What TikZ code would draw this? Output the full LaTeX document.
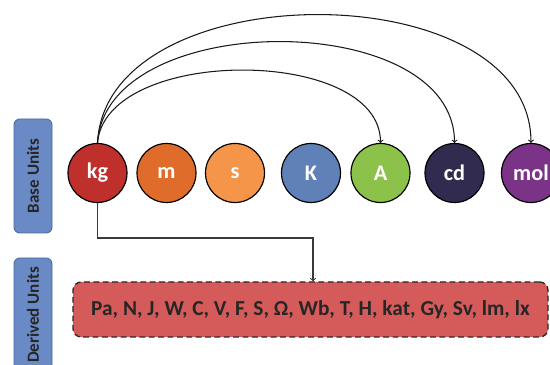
\documentclass[tikz,border=0pt]{standalone}
\usepackage{fontspec}
\setmainfont{Carlito}
\usetikzlibrary{calc}
\usetikzlibrary{arrows}
\usepackage{xcolor}
\definecolor{kgred}{HTML}{BF2F2B}
\definecolor{morange}{HTML}{E06C2C}
\definecolor{sorange}{HTML}{F4954A}
\definecolor{kblue}{HTML}{6080B8}
\definecolor{agreen}{HTML}{8CC24A}
\definecolor{cdnavy}{HTML}{302B4F}
\definecolor{molpurple}{HTML}{7A3386}
\definecolor{derivedred}{HTML}{D55B5B}
\definecolor{tagblue}{HTML}{6A8AC6}
\definecolor{tagedge}{HTML}{4A6AA3}
\definecolor{wire}{HTML}{3A3A3A}

\begin{document}
\begin{tikzpicture}[
  unit/.style={circle, draw=black, line width=1pt, minimum size=1.77cm, inner sep=0,
    text=white, font=\fontsize{19}{21}\selectfont\bfseries},
  tag/.style={rounded corners=5pt, draw=tagedge, line width=.8pt, fill=tagblue,
    minimum width=1.14cm, minimum height=3.42cm, inner sep=0,
    text=black!85, font=\fontsize{14.5}{16}\selectfont\bfseries},
  derived/.style={rounded corners=7pt, draw=black!85, line width=1.1pt,
    dash pattern=on 5pt off 3pt, fill=derivedred, minimum width=14.25cm,
    minimum height=1.65cm, inner sep=0, text=black!85,
    font=\fontsize{18.2}{20}\selectfont\bfseries},
  >=to]
\useasboundingbox (0,0) rectangle (16.5,10.95);
\node[tag] (base) at (0.99,5.67) {\rotatebox{90}{Base Units}};
\node[tag] (dtag) at (0.99,1.5) {\rotatebox{90}{Derived Units}};
\foreach \x/\u/\c in {2.925/kg/kgred, 4.995/m/morange, 7.05/s/sorange, 9.33/K/kblue,
  11.415/A/agreen, 13.635/cd/cdnavy, 15.93/mol/molpurple} {
 \node[unit, fill=\c] (\u) at (\x,5.76) {\u};
}
\node[derived] (units) at (9.315,1.665) {Pa, N, J, W, C, V, F, S, Ω, Wb, T, H, kat, Gy, Sv, lm, lx};
\foreach \t/\h in {A/2.91, cd/4.05, mol/5.13} {
 \draw[black!90, line width=.9pt, ->] (kg.north) .. controls +(0.25,\h) and +(0,\h) .. (\t.north);
}
\coordinate (turn) at (9.39,3.81);
\draw[wire, line width=.9pt, ->] (kg.south) |- (turn) -- (turn |- units.north);
\end{tikzpicture}
\end{document}
